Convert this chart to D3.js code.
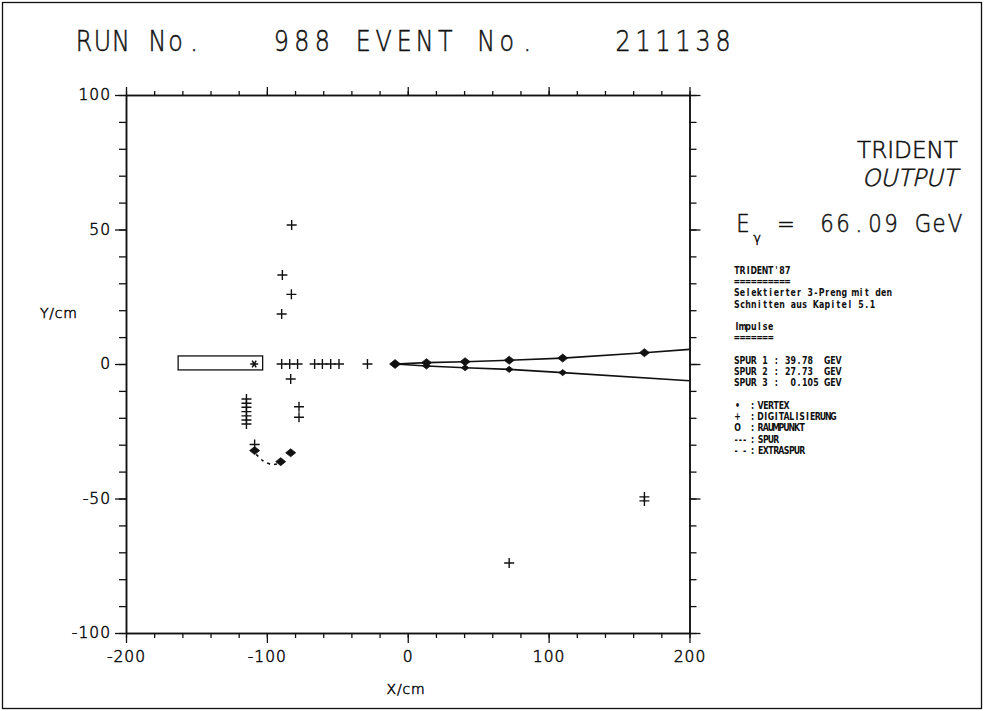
<!DOCTYPE html>
<html>
<head>
<meta charset="utf-8">
<script src="https://cdn.jsdelivr.net/npm/d3@7"></script>
<style>
  html, body { margin: 0; padding: 0; background: #fff; }
  svg { display: block; }
  .plot { font-family: "DejaVu Sans", sans-serif; font-weight: 200; fill: #111; stroke: #111; stroke-width: 0.55px; }
  .info { font-family: "DejaVu Sans Condensed", "DejaVu Sans", sans-serif; font-weight: bold; fill: #111; }
</style>
</head>
<body>
<svg id="chart" width="984" height="711"></svg>
<script>
// ---- axis ranges and ticks (cm) ----
const xDomain = [-200, 200];
const yDomain = [-100, 100];
const xMajorTicks = [-200, -100, 0, 100, 200];
const xMinorTicks = d3.range(-200, 201, 20);
const yMajorTicks = [-100, -50, 0, 50, 100];
const yMinorTicks = d3.range(-100, 101, 10);

// ---- reconstructed event ----
const vertexX = [-9];
const vertexY = [0];

// track 1 (upper) and track 2 (lower), starting at the vertex and running to the frame edge
const track1X = [-9, 13.3, 40.7, 72, 110, 168, 200];
const track1Y = [0, 0.5, 0.85, 1.4, 2.2, 4.2, 5.45];
const track2X = [-9, 13.3, 40.7, 72, 110, 200];
const track2Y = [0, -0.75, -1.4, -2.0, -3.2, -6.2];

// space points on the tracks
const point1X = [13.3, 40.7, 72, 110, 168];
const point1Y = [0.5, 0.85, 1.4, 2.2, 4.2];
const point2X = [13.3, 40.7, 72, 110];
const point2Y = [-0.75, -1.4, -2.0, -3.2];

// low-momentum track 3 (curling)
const curlX = [-108.7, -90.2, -83.1];
const curlY = [-32.2, -36.3, -33.0];
const extraX = [-107.5, -103, -97, -92.5, -90.2];
const extraY = [-33.6, -35.9, -37.3, -37.1, -36.3];

// digitisations
const digitX = [-82.4, -89, -82.6, -89.5,
  -89.5, -83.8, -78.2, -66.1, -60.6, -54.7, -48.8, -28.6,
  -83.1, -77.2, -77.2,
  -114.5, -114.5, -114.5, -114.5, -114.5, -114.5, -114.5,
  -108.7, 168, 168, 72];
const digitY = [51.7, 33.1, 25.9, 18.6,
  0, 0, 0, 0, 0, 0, 0, 0,
  -5.6, -15.9, -19.8,
  -13.0, -14.6, -16.1, -17.7, -19.3, -20.8, -22.3,
  -29.9, -49.4, -50.9, -74];

// target box and beam marker
const boxX = [-163, -103];
const boxY = [-2.2, 3];
const starX = [-109];
const starY = [0];

// ---- header and info text ----
const runLabel = "RUN No.";
const eventLabel = "988 EVENT No.";
const eventNumber = "211138";
const energyValue = "66.09 GeV";
const infoLines = [
  "TRIDENT'87",
  "==========",
  "Selektierter 3-Preng mit den",
  "Schnitten aus Kapitel 5.1",
  "",
  "Impulse",
  "=======",
  "",
  "SPUR 1 : 39.78  GEV",
  "SPUR 2 : 27.73  GEV",
  "SPUR 3 :  0.105 GEV"
];
const legendSymbols = ["\u2022", "+", "O", "---", "- -"];
const legendNames = ["VERTEX", "DIGITALISIERUNG", "RAUMPUNKT", "SPUR", "EXTRASPUR"];

// ---------------------------------------------------------------
const svg = d3.select("#chart");
const ink = "#111";

const x = d3.scaleLinear().domain(xDomain).range([126, 689.5]);
const y = d3.scaleLinear().domain(yDomain).range([633, 95]);

// page frame
svg.append("rect")
  .attr("x", 2.5).attr("y", 2.5).attr("width", 979).attr("height", 706)
  .attr("fill", "none").attr("stroke", ink).attr("stroke-width", 1.3);

// fixed-pitch text, each character centred in its own cell; sx narrows the glyphs
function monoText(parent, str, x0, yBase, pitch, size, cls, sx = 1) {
  const chars = Array.from(str);
  const xs = chars.map((c, i) => ((x0 + i * pitch + pitch / 2) / sx).toFixed(1));
  return parent.append("text")
    .attr("class", cls)
    .attr("x", xs.join(" "))
    .attr("y", yBase)
    .attr("text-anchor", "middle")
    .attr("font-size", size)
    .attr("transform", sx !== 1 ? `scale(${sx},1)` : null)
    .attr("xml:space", "preserve")
    .text(str);
}

// title line
monoText(svg, runLabel, 75, 51, 18.3, 29, "plot", 0.82);
monoText(svg, eventLabel, 271, 51, 20.5, 29, "plot", 0.82);
monoText(svg, eventNumber, 613, 51, 20, 29, "plot", 0.82);

// ---- axes ----
const fmt = d => String(d);
function styleAxis(g, size) {
  g.attr("font-family", null).attr("font-size", null);
  g.selectAll("path.domain").attr("stroke", ink).attr("stroke-width", 1.5);
  g.selectAll(".tick line").attr("stroke", ink).attr("stroke-width", 1.3);
  g.selectAll(".tick text")
    .attr("class", "plot")
    .attr("font-size", size)
    .attr("letter-spacing", 1)
    .attr("fill", ink);
}

// bottom
const gB = svg.append("g").attr("transform", `translate(0,${y(-100)})`);
gB.call(d3.axisBottom(x).tickValues(xMinorTicks).tickSize(5).tickSizeOuter(0).tickFormat(""));
gB.append("g").call(d3.axisBottom(x).tickValues(xMajorTicks).tickSize(10).tickSizeOuter(0)
  .tickPadding(8).tickFormat(fmt));
styleAxis(gB, 15.5);
// top
const gT = svg.append("g").attr("transform", `translate(0,${y(100)})`);
gT.call(d3.axisTop(x).tickValues(xMinorTicks).tickSize(4).tickSizeOuter(0).tickFormat(""));
gT.append("g").call(d3.axisTop(x).tickValues(xMajorTicks).tickSize(8).tickSizeOuter(0).tickFormat(""));
styleAxis(gT, 15.5);
// left
const gL = svg.append("g").attr("transform", `translate(${x(-200)},0)`);
gL.call(d3.axisLeft(y).tickValues(yMinorTicks).tickSize(7).tickSizeOuter(0).tickFormat(""));
gL.append("g").call(d3.axisLeft(y).tickValues(yMajorTicks).tickSize(11).tickSizeOuter(0)
  .tickPadding(4).tickFormat(fmt));
styleAxis(gL, 15.5);
// right
const gR = svg.append("g").attr("transform", `translate(${x(200)},0)`);
gR.call(d3.axisRight(y).tickValues(yMinorTicks).tickSize(7).tickSizeOuter(0).tickFormat(""));
gR.append("g").call(d3.axisRight(y).tickValues(yMajorTicks).tickSize(11).tickSizeOuter(0).tickFormat(""));
styleAxis(gR, 15.5);

// axis titles
svg.append("text").attr("class", "plot")
  .attr("x", 406).attr("y", 694).attr("text-anchor", "middle")
  .attr("font-size", 14).attr("letter-spacing", 0.8).text("X/cm");
svg.append("text").attr("class", "plot")
  .attr("x", 40).attr("y", 318)
  .attr("font-size", 14).attr("letter-spacing", 0.8).text("Y/cm");

// ---- event display ----
const plotG = svg.append("g");
const line = d3.line().x(d => x(d[0])).y(d => y(d[1]));

// tracks
[[track1X, track1Y], [track2X, track2Y]].forEach(([tx, ty]) => {
  plotG.append("path")
    .attr("d", line(tx.map((v, i) => [v, ty[i]])))
    .attr("fill", "none").attr("stroke", ink).attr("stroke-width", 1.6);
});

// extra track (dashed)
plotG.append("path")
  .attr("d", d3.line().curve(d3.curveCatmullRom).x(d => x(d[0])).y(d => y(d[1]))(extraX.map((v, i) => [v, extraY[i]])))
  .attr("fill", "none").attr("stroke", ink).attr("stroke-width", 1.6)
  .attr("stroke-dasharray", "3,4");

// target box
plotG.append("rect")
  .attr("x", x(boxX[0])).attr("y", y(boxY[1]))
  .attr("width", x(boxX[1]) - x(boxX[0])).attr("height", y(boxY[0]) - y(boxY[1]))
  .attr("fill", "none").attr("stroke", ink).attr("stroke-width", 1.3);

// beam star (six-armed asterisk)
starX.forEach((v, i) => {
  const cx = x(v), cy = y(starY[i]);
  const arms = [0, 60, 120].map(a => {
    const r = a * Math.PI / 180, dx = 4 * Math.cos(r), dy = 4 * Math.sin(r);
    return `M${cx - dx},${cy - dy}L${cx + dx},${cy + dy}`;
  }).join("");
  plotG.append("path").attr("d", arms)
    .attr("stroke", ink).attr("stroke-width", 1.5).attr("fill", "none");
});

// digitisations (+)
digitX.forEach((v, i) => {
  const cx = x(v), cy = y(digitY[i]);
  plotG.append("path")
    .attr("d", `M${cx - 5},${cy}H${cx + 5}M${cx},${cy - 5}V${cy + 5}`)
    .attr("stroke", ink).attr("stroke-width", 1.4).attr("fill", "none");
});

// diamonds for vertex and space points
function diamond(cx, cy, r) {
  plotG.append("path")
    .attr("d", `M${cx - r},${cy}L${cx},${cy - r * 0.8}L${cx + r},${cy}L${cx},${cy + r * 0.8}Z`)
    .attr("fill", ink).attr("stroke", ink).attr("stroke-width", 0.8);
}
vertexX.forEach((v, i) => diamond(x(v), y(vertexY[i]), 5.5));
point1X.forEach((v, i) => diamond(x(v), y(point1Y[i]), 5));
point2X.forEach((v, i) => diamond(x(v), y(point2Y[i]), 3.8));
curlX.forEach((v, i) => diamond(x(v), y(curlY[i]), 5));

// ---- right-hand panel ----
svg.append("text").attr("class", "plot")
  .attr("x", 857).attr("y", 158).attr("font-size", 23.5)
  .attr("textLength", 101).attr("lengthAdjust", "spacingAndGlyphs")
  .text("TRIDENT");
// slanted label drawn by shearing the upright light face
svg.append("g").attr("transform", "translate(862,186) skewX(-13)")
  .append("text").attr("class", "plot")
  .attr("x", 0).attr("y", 0).attr("font-size", 23.5)
  .attr("textLength", 95).attr("lengthAdjust", "spacingAndGlyphs")
  .text("OUTPUT");

// photon energy
monoText(svg, "E", 735, 232, 16, 25, "plot", 0.85);
monoText(svg, "\u03B3", 752, 242, 10, 13, "plot");
monoText(svg, "=", 778, 232, 16, 25, "plot", 0.85);
monoText(svg, energyValue, 819, 232, 16, 25, "plot", 0.85);

// info block
const infoTop = 274, infoStep = 11.25, infoSize = 10.4, infoSx = 0.84;
infoLines.forEach((s, i) => {
  if (!s) return;
  monoText(svg, s, 734, infoTop + i * infoStep, 5.65, infoSize, "info", infoSx);
});

// symbol legend
legendNames.forEach((name, i) => {
  const yb = infoTop + (infoLines.length + 1 + i) * infoStep;
  const sym = legendSymbols[i];
  if (sym.length === 1) {
    monoText(svg, sym, 734, yb, 7, infoSize, "info", infoSx);
  } else {
    monoText(svg, sym, 734, yb, 4.3, infoSize, "info", infoSx);
  }
  monoText(svg, ":", 750, yb, 5, infoSize, "info", infoSx);
  monoText(svg, name, 758, yb, 5.2, infoSize, "info", infoSx);
});
</script>
</body>
</html>
